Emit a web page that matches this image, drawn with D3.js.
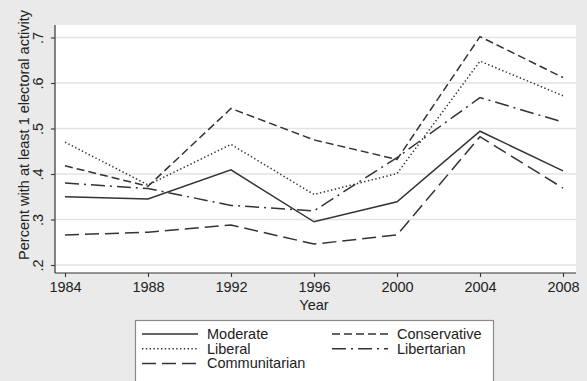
<!DOCTYPE html>
<html>
<head>
<meta charset="utf-8">
<script src="https://cdn.jsdelivr.net/npm/d3@7"></script>
<style>
  html, body { margin: 0; padding: 0; background: #eaeaea; }
  svg { display: block; }
  text { font-family: "Liberation Sans", Arial, sans-serif; fill: #222; }
</style>
</head>
<body>
<svg id="chart" width="587" height="381"></svg>
<script>
// Election years on the x axis
const years = [1984, 1988, 1992, 1996, 2000, 2004, 2008];

// Share with at least one electoral activity, by ideological group
const moderate      = [0.350, 0.345, 0.409, 0.295, 0.339, 0.494, 0.407];
const liberal       = [0.470, 0.376, 0.465, 0.355, 0.401, 0.648, 0.572];
const communitarian = [0.266, 0.272, 0.288, 0.246, 0.266, 0.482, 0.369];
const conservative  = [0.418, 0.373, 0.544, 0.475, 0.432, 0.702, 0.612];
const libertarian   = [0.380, 0.368, 0.331, 0.319, 0.436, 0.568, 0.514];

// Axis ticks
const yTicks = [0.2, 0.3, 0.4, 0.5, 0.6, 0.7];
const xTicks = years;

const seriesNames = ["Moderate", "Conservative", "Liberal", "Libertarian", "Communitarian"];
const seriesValues = {
  Moderate: moderate,
  Liberal: liberal,
  Communitarian: communitarian,
  Conservative: conservative,
  Libertarian: libertarian
};
// Line patterns per group
const dashes = {
  Moderate: null,
  Liberal: "1.4,2.4",
  Communitarian: "14,6",
  Conservative: "8,4",
  Libertarian: "14,5,2,5"
};

const svg = d3.select("#chart");
const FONT = 14.5;

const plot = { left: 55, right: 576, top: 25, bottom: 273 };

const x = d3.scaleLinear().domain([1984, 2008]).range([65, 563]);
const y = d3.scaleLinear().domain([0.2, 0.7]).range([265, 37.5]);

// Plot region
svg.append("rect")
  .attr("x", plot.left).attr("y", plot.top)
  .attr("width", plot.right - plot.left)
  .attr("height", plot.bottom - plot.top)
  .attr("fill", "#ffffff");

// Horizontal gridlines
svg.append("g")
  .selectAll("line")
  .data(yTicks)
  .join("line")
  .attr("x1", plot.left + 1).attr("x2", plot.right)
  .attr("y1", d => y(d)).attr("y2", d => y(d))
  .attr("stroke", "#e3e3e3")
  .attr("stroke-width", 1.6);

// Y axis
const yAxis = svg.append("g")
  .attr("transform", `translate(${plot.left},0)`)
  .call(d3.axisLeft(y).tickValues(yTicks).tickSize(4).tickPadding(3)
    .tickFormat(d => "." + Math.round(d * 10)));
yAxis.select(".domain")
  .attr("d", `M0,${plot.top}V${plot.bottom}`)
  .attr("stroke", "#333").attr("stroke-width", 1.2);
yAxis.selectAll(".tick line").attr("stroke", "#333").attr("stroke-width", 1.1);
yAxis.selectAll(".tick text")
  .attr("x", null).attr("dy", null)
  .attr("transform", "translate(-12,0) rotate(-90)")
  .attr("text-anchor", "middle")
  .style("font-size", FONT + "px")
  .style("font-family", "'Liberation Sans', Arial, sans-serif")
  .attr("fill", "#222");

// X axis
const xAxis = svg.append("g")
  .attr("transform", `translate(0,${plot.bottom})`)
  .call(d3.axisBottom(x).tickValues(xTicks).tickSize(4).tickPadding(5)
    .tickFormat(d3.format("d")));
xAxis.select(".domain")
  .attr("d", `M${plot.left},0H${plot.right}`)
  .attr("stroke", "#333").attr("stroke-width", 1.2);
xAxis.selectAll(".tick line").attr("stroke", "#333").attr("stroke-width", 1.1);
xAxis.selectAll(".tick text")
  .style("font-size", FONT + "px")
  .style("font-family", "'Liberation Sans', Arial, sans-serif")
  .attr("fill", "#222");

// Axis titles
svg.append("text")
  .attr("transform", "translate(29,135) rotate(-90)")
  .attr("text-anchor", "middle")
  .style("font-size", FONT + "px")
  .text("Percent with at least 1 electoral activity");

svg.append("text")
  .attr("x", x(1996)).attr("y", 310)
  .attr("text-anchor", "middle")
  .style("font-size", FONT + "px")
  .text("Year");

// Series lines
const line = d3.line()
  .x((d, i) => x(years[i]))
  .y(d => y(d));

svg.append("g")
  .selectAll("path")
  .data(seriesNames)
  .join("path")
  .attr("d", name => line(seriesValues[name]))
  .attr("fill", "none")
  .attr("stroke", "#333")
  .attr("stroke-width", 1.5)
  .attr("stroke-linejoin", "miter")
  .attr("stroke-dasharray", name => dashes[name]);

// Legend
const legend = svg.append("g");
legend.append("rect")
  .attr("x", 135.5).attr("y", 320.5)
  .attr("width", 358).attr("height", 80)
  .attr("fill", "#ffffff")
  .attr("stroke", "#8a8a8a")
  .attr("stroke-width", 1.2);

const legendItems = seriesNames.map((name, i) => ({
  name,
  col: i % 2,
  row: Math.floor(i / 2)
}));
const colKeyX = [142, 332];
const rowY = [334, 348.7, 363.4];

const item = legend.selectAll("g.item")
  .data(legendItems)
  .join("g")
  .attr("class", "item")
  .attr("transform", d => `translate(${colKeyX[d.col]},${rowY[d.row]})`);

item.append("line")
  .attr("x1", 0).attr("x2", 56)
  .attr("y1", 0).attr("y2", 0)
  .attr("stroke", "#333")
  .attr("stroke-width", 1.5)
  .attr("stroke-dasharray", d => dashes[d.name]);

item.append("text")
  .attr("x", 65).attr("y", 0)
  .attr("dy", "0.35em")
  .style("font-size", FONT + "px")
  .text(d => d.name);
</script>
</body>
</html>
